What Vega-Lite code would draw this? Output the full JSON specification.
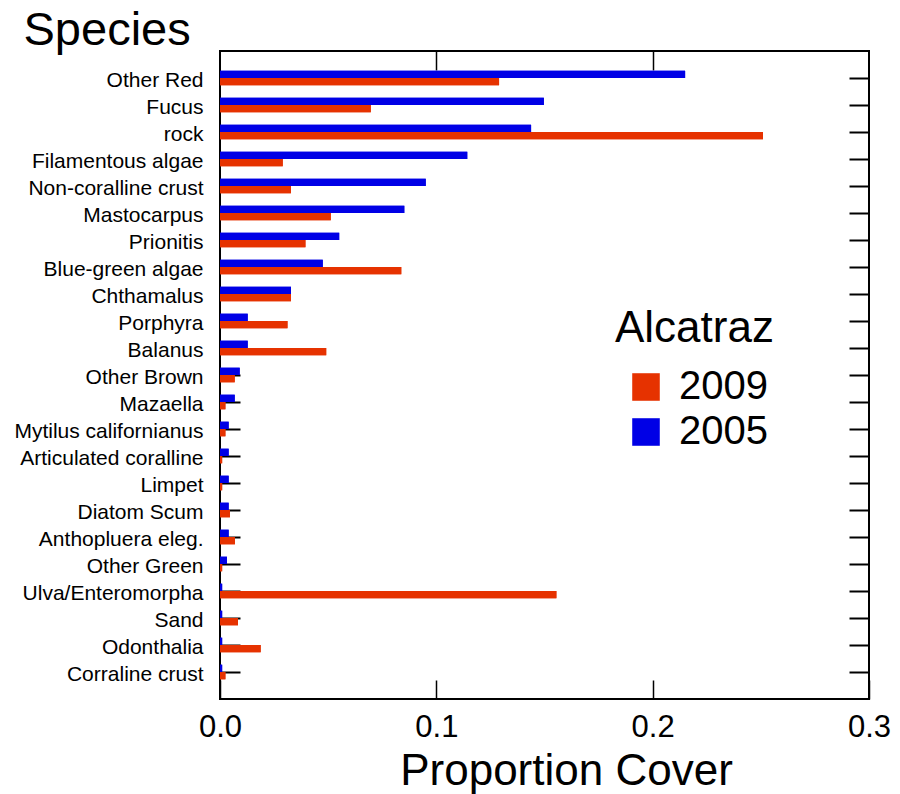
{
  "$schema": "https://vega.github.io/schema/vega-lite/v6.json",
  "autosize": {"type": "none"},
  "padding": {"left": 220, "top": 51, "right": 30, "bottom": 95},
  "width": 649,
  "height": 648,
  "background": "white",
  "config": {
    "font": "Liberation Sans",
    "view": {"stroke": "black", "strokeWidth": 2},
    "axis": {"domain": false, "grid": false, "labelColor": "black", "titleColor": "black", "tickColor": "black", "titleFontWeight": "normal"}
  },
  "data": {"values": [
    {"species": "Other Red", "year": "2005", "cover": 0.215},
    {"species": "Other Red", "year": "2009", "cover": 0.129},
    {"species": "Fucus", "year": "2005", "cover": 0.1497},
    {"species": "Fucus", "year": "2009", "cover": 0.0697},
    {"species": "rock", "year": "2005", "cover": 0.1438},
    {"species": "rock", "year": "2009", "cover": 0.251},
    {"species": "Filamentous algae", "year": "2005", "cover": 0.1143},
    {"species": "Filamentous algae", "year": "2009", "cover": 0.029},
    {"species": "Non-coralline crust", "year": "2005", "cover": 0.0951},
    {"species": "Non-coralline crust", "year": "2009", "cover": 0.0328},
    {"species": "Mastocarpus", "year": "2005", "cover": 0.0852},
    {"species": "Mastocarpus", "year": "2009", "cover": 0.0512},
    {"species": "Prionitis", "year": "2005", "cover": 0.0551},
    {"species": "Prionitis", "year": "2009", "cover": 0.0395},
    {"species": "Blue-green algae", "year": "2005", "cover": 0.0475},
    {"species": "Blue-green algae", "year": "2009", "cover": 0.0838},
    {"species": "Chthamalus", "year": "2005", "cover": 0.0328},
    {"species": "Chthamalus", "year": "2009", "cover": 0.0328},
    {"species": "Porphyra", "year": "2005", "cover": 0.0128},
    {"species": "Porphyra", "year": "2009", "cover": 0.0312},
    {"species": "Balanus", "year": "2005", "cover": 0.0128},
    {"species": "Balanus", "year": "2009", "cover": 0.0491},
    {"species": "Other Brown", "year": "2005", "cover": 0.0091},
    {"species": "Other Brown", "year": "2009", "cover": 0.0068},
    {"species": "Mazaella", "year": "2005", "cover": 0.0068},
    {"species": "Mazaella", "year": "2009", "cover": 0.0025},
    {"species": "Mytilus californianus", "year": "2005", "cover": 0.004},
    {"species": "Mytilus californianus", "year": "2009", "cover": 0.0025},
    {"species": "Articulated coralline", "year": "2005", "cover": 0.004},
    {"species": "Articulated coralline", "year": "2009", "cover": 0.001},
    {"species": "Limpet", "year": "2005", "cover": 0.004},
    {"species": "Limpet", "year": "2009", "cover": 0.001},
    {"species": "Diatom Scum", "year": "2005", "cover": 0.004},
    {"species": "Diatom Scum", "year": "2009", "cover": 0.0046},
    {"species": "Anthopluera eleg.", "year": "2005", "cover": 0.004},
    {"species": "Anthopluera eleg.", "year": "2009", "cover": 0.0069},
    {"species": "Other Green", "year": "2005", "cover": 0.0032},
    {"species": "Other Green", "year": "2009", "cover": 0.001},
    {"species": "Ulva/Enteromorpha", "year": "2005", "cover": 0.001},
    {"species": "Ulva/Enteromorpha", "year": "2009", "cover": 0.1555},
    {"species": "Sand", "year": "2005", "cover": 0.001},
    {"species": "Sand", "year": "2009", "cover": 0.0083},
    {"species": "Odonthalia", "year": "2005", "cover": 0.001},
    {"species": "Odonthalia", "year": "2009", "cover": 0.0188},
    {"species": "Corraline crust", "year": "2005", "cover": 0.001},
    {"species": "Corraline crust", "year": "2009", "cover": 0.0025}
  ]},
  "encoding": {
    "y": {
      "field": "species", "type": "nominal", "sort": null,
      "scale": {"paddingInner": 0.46, "paddingOuter": 0.73}
    },
    "yOffset": {"field": "year", "type": "nominal", "sort": ["2005", "2009"], "scale": {"paddingInner": 0}},
    "x": {"field": "cover", "type": "quantitative", "scale": {"domain": [0, 0.3], "nice": false, "zero": true}},
    "color": {
      "field": "year", "type": "nominal",
      "scale": {"domain": ["2009", "2005"], "range": ["#E63200", "#0000E6"]}
    }
  },
  "layer": [
    {
      "mark": {"type": "bar"},
      "encoding": {
        "y": {
          "field": "species", "type": "nominal", "sort": null,
          "axis": {
            "orient": "left", "title": "Species", "titleAngle": 0, "titleFontSize": 47,
            "titleAlign": "left", "titleBaseline": "alphabetic", "titleX": -197, "titleY": -7,
            "labelFontSize": 21, "labelPadding": 37, "labelOffset": 3, "tickSize": -20, "tickWidth": 2, "labelLimit": 300
          }
        },
        "x": {
          "field": "cover", "type": "quantitative",
          "axis": {
            "orient": "bottom", "title": "Proportion Cover", "titleFontSize": 44,
            "values": [0, 0.1, 0.2, 0.3], "format": ".1f",
            "labelFontSize": 31, "labelPadding": 32, "tickSize": -19, "tickWidth": 1.5,
            "labelFlush": false, "titleX": 346, "titleY": 85, "titleBaseline": "alphabetic"
          }
        },
        "color": {
          "field": "year", "type": "nominal",
          "legend": {
            "orient": "none", "legendX": 395, "legendY": 256,
            "title": "Alcatraz", "titleFontSize": 44, "titleFontWeight": "normal", "titleColor": "black",
            "labelFontSize": 40, "labelColor": "black", "symbolType": "square", "symbolSize": 760,
            "symbolStrokeWidth": 0, "symbolOffset": 11, "labelOffset": 13, "rowPadding": 5, "titlePadding": 16
          }
        }
      }
    },
    {
      "mark": {"type": "bar"},
      "encoding": {
        "y": {
          "field": "species", "type": "nominal", "sort": null,
          "axis": {"orient": "right", "title": null, "labels": false, "tickSize": -20, "tickWidth": 2}
        },
        "x": {
          "field": "cover", "type": "quantitative",
          "axis": {"orient": "top", "title": null, "labels": false, "values": [0.1, 0.2], "tickSize": -19, "tickWidth": 1.5}
        }
      }
    }
  ],
  "resolve": {"axis": {"x": "independent", "y": "independent"}}
}
